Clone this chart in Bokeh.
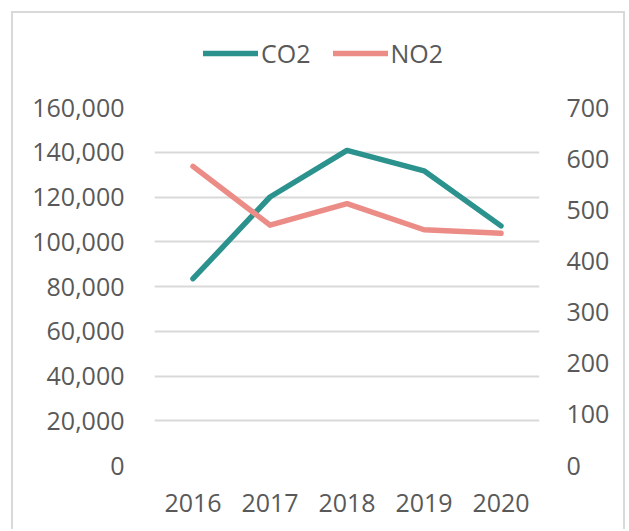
from bokeh.plotting import figure
from bokeh.layouts import column
from bokeh.models import (LinearAxis, Range1d, FactorRange, FixedTicker,
                          NumeralTickFormatter, Legend, LegendItem)
from bokeh.embed import file_html
from bokeh.resources import INLINE

years = ["2016", "2017", "2018", "2019", "2020"]
co2 = [83500, 120000, 140800, 131700, 107100]
no2 = [585, 470, 512, 461, 454]
left_ticks = [0, 20000, 40000, 60000, 80000, 100000, 120000, 140000, 160000]
right_ticks = [0, 100, 200, 300, 400, 500, 600, 700]
series_names = ["CO2", "NO2"]

FONT = "Open Sans"
TXT = "#595959"
CO2_COLOR = "#2b928e"
NO2_COLOR = "#ec8c86"
BORDER = "2px solid #d9d9d9"

x_range = FactorRange(*years, range_padding=0)

# ---- legend strip (top part of the chart box) ----
lg = figure(width=614, height=70, x_range=x_range, y_range=Range1d(-2, -1),
            output_backend="svg", toolbar_location=None,
            x_axis_location=None, y_axis_location=None,
            min_border_left=0, min_border_right=0, min_border_top=0, min_border_bottom=0)
lg.styles = {"border-left": BORDER, "border-right": BORDER, "border-top": BORDER,
             "margin-left": "11px", "margin-top": "11px"}
lg.outline_line_color = None
lg.xgrid.grid_line_color = None
lg.ygrid.grid_line_color = None
# the series themselves, outside this strip's visible range: only their legend shows
lg1 = lg.line(years, co2, line_color=CO2_COLOR, line_width=5.5, line_cap="round")
lg2 = lg.line(years, no2, line_color=NO2_COLOR, line_width=5.5, line_cap="round")
legend = Legend(items=[LegendItem(label=series_names[0], renderers=[lg1]),
                       LegendItem(label=series_names[1], renderers=[lg2])],
                orientation="horizontal", location=(49, 13),
                glyph_width=55, glyph_height=20, label_height=20,
                label_standoff=3, spacing=22,
                padding=0, margin=0, border_line_alpha=0, background_fill_alpha=0,
                label_text_font=FONT, label_text_font_size="25px",
                label_text_color=TXT)
lg.add_layout(legend, "center")

# ---- main chart ----
p = figure(width=614, height=448, x_range=x_range,
           y_range=Range1d(0, 160000), output_backend="svg",
           toolbar_location=None, y_axis_location=None,
           min_border_left=141, min_border_right=88,
           min_border_top=26, min_border_bottom=64)
p.styles = {"border-left": BORDER, "border-right": BORDER, "margin-left": "11px"}
p.outline_line_color = None
p.background_fill_color = "white"
p.border_fill_color = "white"

p.extra_y_ranges = {"right": Range1d(0, 700)}

la = LinearAxis(ticker=FixedTicker(ticks=left_ticks),
                formatter=NumeralTickFormatter(format="0,0"))
ra = LinearAxis(y_range_name="right", ticker=FixedTicker(ticks=right_ticks))
for ax in (la, ra):
    ax.axis_line_color = None
    ax.major_tick_line_color = None
    ax.minor_tick_line_color = None
    ax.major_tick_out = 0
    ax.major_tick_in = 0
    ax.major_label_text_font = FONT
    ax.major_label_text_font_size = "25px"
    ax.major_label_text_color = TXT
la.major_label_standoff = 30
ra.major_label_standoff = 27
p.add_layout(la, "left")
p.add_layout(ra, "right")

xa = p.xaxis[0]
xa.axis_line_color = None
xa.major_tick_line_color = None
xa.major_tick_out = 0
xa.major_tick_in = 0
xa.major_label_text_font = FONT
xa.major_label_text_font_size = "25px"
xa.major_label_text_color = TXT
xa.major_label_standoff = 28

p.xgrid.grid_line_color = None
p.ygrid.grid_line_color = "#d9d9d9"
p.ygrid.grid_line_width = 2
p.ygrid.ticker = FixedTicker(ticks=left_ticks)

p.line(years, co2, line_color=CO2_COLOR, line_width=5.5,
       line_cap="round", line_join="round")
p.line(years, no2, y_range_name="right", line_color=NO2_COLOR, line_width=5.5,
       line_cap="round", line_join="round")

layout = column(lg, p)
open("out.html", "w").write(file_html(layout, INLINE))
